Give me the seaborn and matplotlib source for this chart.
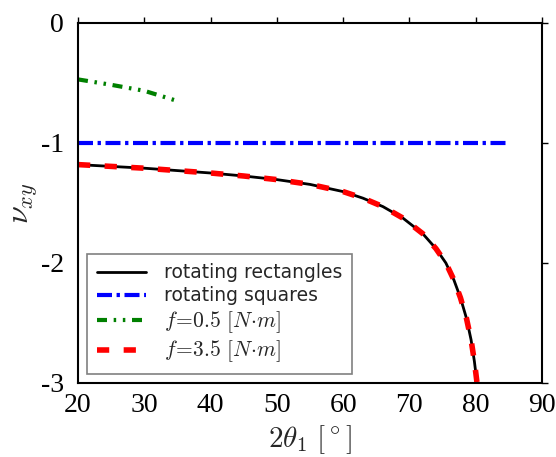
import numpy as np
import pandas as pd
import seaborn as sns
import matplotlib
matplotlib.use('Agg')
import matplotlib.pyplot as plt

# values
rectAngle = [20, 25, 30, 35, 40, 45, 50, 55, 60, 63, 66, 69, 72, 74, 75.5, 76.7, 77.7, 78.6, 79.3, 79.8, 80.2, 80.3]
rectNu = [-1.18, -1.195, -1.21, -1.23, -1.25, -1.275, -1.305, -1.345, -1.405, -1.46, -1.53, -1.625,
          -1.755, -1.88, -2.0, -2.14, -2.29, -2.46, -2.64, -2.82, -3.0, -3.05]
squareAngle = [20, 85]
squareNu = [-1.0, -1.0]
lowAngle = [20, 25, 30, 35]
lowNu = [-0.47, -0.515, -0.565, -0.65]
highAngle = rectAngle
highNu = rectNu
xTicks = [20, 30, 40, 50, 60, 70, 80, 90]
yTicks = [0, -1, -2, -3]

sns.set_style('white')
plt.rcParams['font.family'] = ['Liberation Serif', 'DejaVu Serif']
plt.rcParams['mathtext.fontset'] = 'cm'
plt.rcParams['axes.unicode_minus'] = False

fig = plt.figure(figsize=(5.56, 4.57), dpi=100)
ax = fig.add_axes([78 / 556, 1 - 383 / 457, 464 / 556, 360 / 457])

dfRect = pd.DataFrame({'angle': rectAngle, 'nu': rectNu})
dfSquare = pd.DataFrame({'angle': squareAngle, 'nu': squareNu})
dfLow = pd.DataFrame({'angle': lowAngle, 'nu': lowNu})
dfHigh = pd.DataFrame({'angle': highAngle, 'nu': highNu})

sns.lineplot(data=dfRect, x='angle', y='nu', ax=ax, color='black', lw=2,
             label='rotating rectangles', sort=False)
sns.lineplot(data=dfSquare, x='angle', y='nu', ax=ax, color='blue', lw=3,
             label='rotating squares', sort=False)
ax.lines[-1].set_dashes([3.6, 1.1, 0.8, 1.1])
sns.lineplot(data=dfLow, x='angle', y='nu', ax=ax, color='green', lw=3,
             label=r'$f\!=\!0.5\ [N\!\cdot\! m]$', sort=False)
ax.lines[-1].set_dashes([2.4, 1.6, 0.6, 1.6, 0.6, 1.6])
sns.lineplot(data=dfHigh, x='angle', y='nu', ax=ax, color='red', lw=4,
             label=r'$f\!=\!3.5\ [N\!\cdot\! m]$', sort=False)
ax.lines[-1].set_dashes([2.2, 2.6])

ax.set_xlim(20, 90)
ax.set_ylim(-3, 0)
ax.set_xticks(xTicks)
ax.set_yticks(yTicks)
ax.set_xticklabels([str(t) for t in xTicks])
ax.set_yticklabels([str(t) for t in yTicks])
ax.tick_params(direction='out', length=4, width=1, top=True, right=True,
               labelsize=20, colors='black')
ax.tick_params(axis='x', pad=3)
ax.tick_params(axis='y', pad=6)
for s in ax.spines.values():
    s.set_color('black')
    s.set_linewidth(1.5)

ax.set_xlabel(r'$2\theta_1\ [^\circ]$', fontsize=21, labelpad=4)
ax.set_ylabel(r'$\nu_{xy}$', fontsize=23, labelpad=1)

leg = ax.legend(loc='lower left', fancybox=False, framealpha=1, edgecolor='gray',
                prop={'family': 'DejaVu Sans', 'size': 13.5}, handlelength=2.6,
                handletextpad=1.0, borderaxespad=0.5, labelspacing=0.2, borderpad=0.5)
leg.get_frame().set_linewidth(1.2)
for t in leg.get_texts()[2:]:
    t.set_fontsize(15.5)

fig.savefig('out.png', dpi=100)
